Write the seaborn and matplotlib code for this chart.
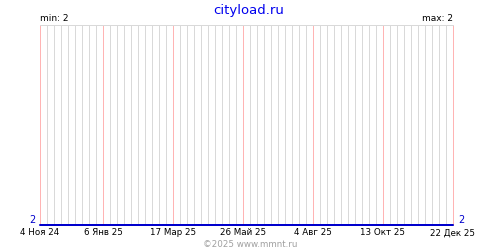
import matplotlib
matplotlib.use("Agg")
import matplotlib.pyplot as plt
import seaborn as sns
import pandas as pd

sns.set_theme(style="white")
plt.rcParams['font.family'] = ['DejaVu Sans']

# Data
dates = ["2024-11-04", "2025-12-22"]
values = [2, 2]
tick_dates = ["2024-11-04", "2025-01-06", "2025-03-17", "2025-05-26",
              "2025-08-04", "2025-10-13", "2025-12-22"]
tick_labels = ["4 Ноя 24", "6 Янв 25", "17 Мар 25", "26 Май 25",
               "4 Авг 25", "13 Окт 25", "22 Дек 25"]
title = "cityload.ru"
footer = "©2025 www.mmnt.ru"
min_val = 2
max_val = 2

df = pd.DataFrame({"date": pd.to_datetime(dates), "value": values})
tdates = pd.to_datetime(tick_dates)

PX = 0.72  # one pixel in points at dpi 100

fig = plt.figure(figsize=(5, 2.5), dpi=100)
ax = fig.add_axes([0.08, 0.1, 0.826, 0.8])

sns.lineplot(data=df, x="date", y="value", ax=ax, color="#0000cc",
             linewidth=2 * PX, clip_on=False, zorder=5)

xmin, xmax = df["date"].min(), df["date"].max()
ax.set_xlim(xmin, xmax)
ax.set_ylim(min_val, min_val + 1)
ax.set_xlabel("")
ax.set_ylabel("")

# weekly gray grid, red grid at labelled dates
tset = set(tdates)
weeks = pd.date_range(xmin, xmax, freq="7D")
for w in weeks:
    if w in tset:
        continue
    ax.axvline(w, color="#d9d9d9", linewidth=PX, zorder=1,
               antialiased=False, snap=True)
for t in tdates:
    ax.axvline(t, color="#ffb4b4", linewidth=PX, zorder=2,
               antialiased=False, snap=True, clip_on=False)

ax.set_xticks(tdates)
ax.set_xticklabels(tick_labels, fontsize=6.3, color="black")
ax.set_xticks([], minor=True)
ax.grid(False)
ax.tick_params(axis="x", which="both", length=0, pad=2.5)
ax.set_yticks([])

for s in ["left", "right", "bottom"]:
    ax.spines[s].set_visible(False)
ax.spines["top"].set_color("#d9d9d9")
ax.spines["top"].set_linewidth(PX)

ax.text(-0.012, 0.0, str(min_val), transform=ax.transAxes, ha="right",
        va="bottom", fontsize=7, color="#0000cc")
ax.text(1.012, 0.0, str(max_val), transform=ax.transAxes, ha="left",
        va="bottom", fontsize=7, color="#0000cc")
ax.text(0.0, 1.01, f"min: {min_val}", transform=ax.transAxes, ha="left",
        va="bottom", fontsize=6.5, color="black")
ax.text(1.0, 1.01, f"max: {max_val}", transform=ax.transAxes, ha="right",
        va="bottom", fontsize=6.5, color="black")

fig.text(0.497, 0.985, title, ha="center", va="top", fontsize=9.5,
         color="#0000ee")
fig.text(0.5, 0.004, footer, ha="center", va="bottom", fontsize=6.3,
         color="#a0a0a0")

fig.savefig("out.png", dpi=100)
